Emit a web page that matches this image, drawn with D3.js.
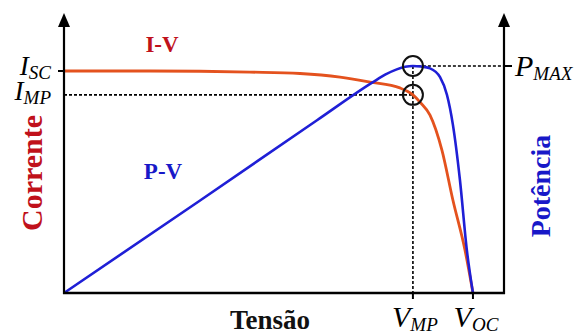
<!DOCTYPE html>
<html>
<head>
<meta charset="utf-8">
<script src="https://cdn.jsdelivr.net/npm/d3@7"></script>
<style>
  html, body { margin: 0; padding: 0; background: #fff; }
  svg { display: block; }
</style>
</head>
<body>
<svg id="chart" width="576" height="336"></svg>
<script>
// Photovoltaic module characteristic curves (arbitrary units)
const voltage = [0, 4.63, 10.0, 12.7, 14.85, 16.46, 18.07, 18.77, 19.15, 19.69, 20.33, 20.92, 21.57, 22.0];
const current = [8.0, 8.0, 7.96, 7.91, 7.78, 7.60, 7.39, 7.14, 6.88, 6.41, 5.15, 3.35, 1.55, 0];

const powerVoltage = [0, 7.32, 13.61, 16.62, 17.3, 17.9, 18.35, 18.77, 19.2, 19.69, 20.23, 20.6, 20.92, 21.3, 21.67, 22.0];
const power = [0, 54.6, 102, 124.5, 129.0, 132.0, 133.5, 134, 133.7, 132.6, 127.4, 117, 99.4, 66.7, 25.4, 0];

// Key operating points
const Isc = 8.0, Imp = 7.14, Vmp = 18.77, Voc = 22.0, Pmax = 134;

const serif = "'Liberation Serif', 'Times New Roman', Times, 'DejaVu Serif', serif";

const svg = d3.select("#chart");

const x = d3.scaleLinear().domain([0, 23.67]).range([64, 504]);
const yI = d3.scaleLinear().domain([0, Isc]).range([293, 71]);
const yP = d3.scaleLinear().domain([0, Pmax]).range([293, 66]);

const orange = "#e4521e";
const blue = "#1f1fd6";
const darkRed = "#c0111b";
const labelBlue = "#1818c8";

// Curves
const ivLine = d3.line()
  .x((d, i) => x(voltage[i]))
  .y(d => yI(d))
  .curve(d3.curveMonotoneX);
const pvLine = d3.line()
  .x((d, i) => x(powerVoltage[i]))
  .y(d => yP(d))
  .curve(d3.curveMonotoneX);

// Reference (dotted) lines
const dash = "3,2";
svg.append("line")
  .attr("x1", x(0)).attr("x2", x(Vmp))
  .attr("y1", yI(Imp)).attr("y2", yI(Imp))
  .attr("stroke", "#000").attr("stroke-width", 1.6).attr("stroke-dasharray", dash);
svg.append("line")
  .attr("x1", x(Vmp)).attr("x2", x(23.67))
  .attr("y1", yP(Pmax)).attr("y2", yP(Pmax))
  .attr("stroke", "#000").attr("stroke-width", 1.6).attr("stroke-dasharray", dash);
svg.append("line")
  .attr("x1", x(Vmp)).attr("x2", x(Vmp))
  .attr("y1", yP(Pmax)).attr("y2", yI(0))
  .attr("stroke", "#000").attr("stroke-width", 1.6).attr("stroke-dasharray", dash);

svg.append("path")
  .datum(current)
  .attr("d", ivLine)
  .attr("fill", "none")
  .attr("stroke", orange)
  .attr("stroke-width", 2.8);

svg.append("path")
  .datum(power)
  .attr("d", pvLine)
  .attr("fill", "none")
  .attr("stroke", blue)
  .attr("stroke-width", 2.6);

// Maximum power point markers
[[x(Vmp), yP(Pmax)], [x(Vmp), yI(Imp)]].forEach(([cx, cy]) => {
  svg.append("circle")
    .attr("cx", cx).attr("cy", cy).attr("r", 10)
    .attr("fill", "none").attr("stroke", "#111").attr("stroke-width", 2);
});

// Axes frame
const axisColor = "#000";
const axLeft = x(0), axRight = x(23.67), axBottom = yI(0), axTop = 24;
svg.append("line").attr("x1", axLeft).attr("x2", axLeft).attr("y1", axTop).attr("y2", axBottom + 1)
  .attr("stroke", axisColor).attr("stroke-width", 2.2);
svg.append("line").attr("x1", axRight).attr("x2", axRight).attr("y1", axTop).attr("y2", axBottom + 1)
  .attr("stroke", axisColor).attr("stroke-width", 2.2);
svg.append("line").attr("x1", axLeft - 1).attr("x2", axRight + 1).attr("y1", axBottom).attr("y2", axBottom)
  .attr("stroke", axisColor).attr("stroke-width", 2.4);

// Arrow heads
[axLeft, axRight].forEach(ax => {
  svg.append("path")
    .attr("d", `M${ax},13 L${ax - 6},27 L${ax + 6},27 Z`)
    .attr("fill", axisColor);
});

// Ticks
svg.append("line").attr("x1", axLeft - 6).attr("x2", axLeft).attr("y1", yI(Isc)).attr("y2", yI(Isc))
  .attr("stroke", axisColor).attr("stroke-width", 2);
svg.append("line").attr("x1", axRight).attr("x2", axRight + 8).attr("y1", yP(Pmax)).attr("y2", yP(Pmax))
  .attr("stroke", axisColor).attr("stroke-width", 2);
[Vmp, Voc].forEach(v => {
  svg.append("line").attr("x1", x(v)).attr("x2", x(v)).attr("y1", axBottom).attr("y2", axBottom + 6)
    .attr("stroke", axisColor).attr("stroke-width", 2);
});

// Subscripted point labels
function subLabel(tx, ty, main, sub, anchor, size) {
  const t = svg.append("text")
    .attr("x", tx).attr("y", ty)
    .attr("text-anchor", anchor)
    .attr("font-family", serif)
    .attr("font-style", "italic")
    .attr("fill", "#000");
  t.append("tspan").attr("font-size", size).text(main);
  t.append("tspan").attr("font-size", 19).attr("dy", 4).text(sub);
}
subLabel(51, 75, "I", "SC", "end", 27);
subLabel(51, 100, "I", "MP", "end", 27);
subLabel(515, 76, "P", "MAX", "start", 30);
subLabel(x(Vmp) + 2, 327, "V", "MP", "middle", 30);
subLabel(x(Voc) + 3, 327, "V", "OC", "middle", 30);

// Curve names
svg.append("text").attr("x", 162).attr("y", 52).attr("text-anchor", "middle")
  .attr("font-family", serif)
  .attr("font-size", 23).attr("font-weight", "bold").attr("fill", darkRed).text("I-V");
svg.append("text").attr("x", 163).attr("y", 179).attr("text-anchor", "middle")
  .attr("font-family", serif)
  .attr("font-size", 23).attr("font-weight", "bold").attr("fill", labelBlue).text("P-V");

// Axis titles
svg.append("text").attr("transform", "translate(42,173) rotate(-90)")
  .attr("text-anchor", "middle").attr("font-size", 30).attr("font-weight", "bold")
  .attr("font-family", serif)
  .attr("fill", darkRed).text("Corrente");
svg.append("text").attr("transform", "translate(550,186) rotate(-90)")
  .attr("text-anchor", "middle").attr("font-size", 28).attr("font-weight", "bold")
  .attr("font-family", serif)
  .attr("fill", labelBlue).text("Potência");
svg.append("text").attr("x", 270).attr("y", 329).attr("text-anchor", "middle")
  .attr("font-size", 27).attr("font-weight", "bold")
  .attr("font-family", serif)
  .attr("fill", "#111").text("Tensão");
</script>
</body>
</html>
